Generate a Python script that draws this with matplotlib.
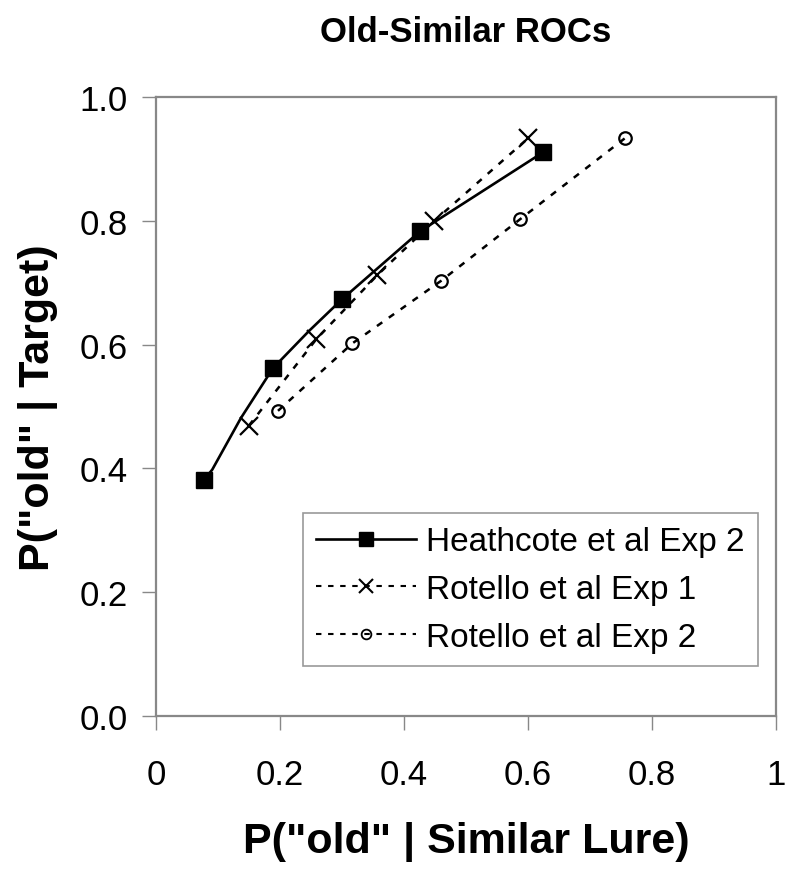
import numpy as np
import matplotlib
matplotlib.use('Agg')
import matplotlib.pyplot as plt

plt.rcParams['font.family'] = ['Liberation Sans', 'DejaVu Sans']

# Heathcote et al Exp 2 (markers and the line drawn through them)
heath_x = [0.078, 0.189, 0.300, 0.426, 0.625]
heath_y = [0.382, 0.562, 0.673, 0.783, 0.911]
heath_line_x = [0.078, 0.091, 0.137, 0.189, 0.247, 0.300, 0.426, 0.625]
heath_line_y = [0.382, 0.398, 0.481, 0.562, 0.622, 0.673, 0.783, 0.911]

# Rotello et al Exp 1
rot1_x = [0.150, 0.259, 0.357, 0.448, 0.600]
rot1_y = [0.469, 0.609, 0.712, 0.799, 0.933]

# Rotello et al Exp 2
rot2_x = [0.197, 0.317, 0.460, 0.588, 0.756]
rot2_y = [0.493, 0.602, 0.703, 0.803, 0.933]

xticks = [0, 0.2, 0.4, 0.6, 0.8, 1]
xtick_labels = ['0', '0.2', '0.4', '0.6', '0.8', '1']
yticks = [0.0, 0.2, 0.4, 0.6, 0.8, 1.0]

fig = plt.figure(figsize=(7.95, 8.79), dpi=100)
ax = fig.add_axes([0.196, 0.1843, 0.780, 0.7042])

ax.plot(heath_line_x, heath_line_y, color='black', lw=1.9, zorder=3)
ax.plot(heath_x, heath_y, ls='none', marker='s', ms=11.5, color='black', zorder=4)
h1, = ax.plot([], [], color='black', lw=1.9, marker='s', ms=10)

dash = (0, (2.6, 3.2))
ax.plot(rot1_x, rot1_y, color='black', lw=1.8, ls=dash, marker='x', ms=13,
        mew=1.6, zorder=2)
h2, = ax.plot([], [], color='black', lw=1.5, ls=dash, marker='x', ms=10, mew=1.5)

ax.plot(rot2_x, rot2_y, color='black', lw=1.8, ls=dash, marker='o', ms=9,
        mfc='none', mew=1.6, zorder=2)
h3, = ax.plot([], [], color='black', lw=1.5, ls=dash, marker='o', ms=7,
              mfc='none', mew=1.3)

ax.set_xlim(0, 1)
ax.set_ylim(0, 1)
ax.set_xticks(xticks)
ax.set_xticklabels(xtick_labels)
ax.set_yticks(yticks)
ax.set_yticklabels(['%.1f' % v for v in yticks])
ax.tick_params(direction='out', length=10, width=1, color='#888888',
               labelsize=25)
ax.tick_params(axis='x', pad=20)
ax.tick_params(axis='y', pad=10)
for sp in ax.spines.values():
    sp.set_color('#888888')
    sp.set_linewidth(1.6)

ax.set_title('Old-Similar ROCs', fontsize=25, fontweight='bold', pad=40)
ax.set_xlabel('P("old" | Similar Lure)', fontsize=31, fontweight='bold', labelpad=22)
ax.set_ylabel('P("old" | Target)', fontsize=31, fontweight='bold', labelpad=16)

leg = ax.legend([h1, h2, h3],
                ['Heathcote et al Exp 2', 'Rotello et al Exp 1', 'Rotello et al Exp 2'],
                loc='lower right', bbox_to_anchor=(0.971, 0.081), borderaxespad=0,
                fontsize=24, handlelength=3.0, handletextpad=0.3,
                labelspacing=0.5, borderpad=0.4, fancybox=False, framealpha=1)
leg.get_frame().set_edgecolor('#999999')
leg.get_frame().set_linewidth(1.2)

fig.savefig('out.png', dpi=100)
